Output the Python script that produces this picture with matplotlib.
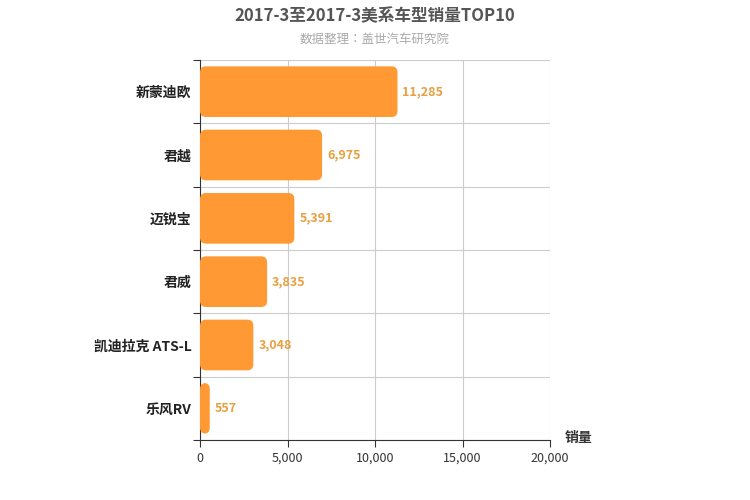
import matplotlib.pyplot as plt
from matplotlib.patches import FancyBboxPatch
from matplotlib import font_manager

names = {f.name for f in font_manager.fontManager.ttflist}
cjk = [f for f in ['Noto Sans CJK SC', 'Noto Sans CJK JP', 'Noto Sans CJK TC',
                   'Noto Sans CJK KR', 'Noto Sans SC'] if f in names]
print(sorted(n for n in names if 'CJK' in n or 'Noto' in n))
plt.rcParams['font.family'] = ['sans-serif']
plt.rcParams['font.sans-serif'] = cjk + ['DejaVu Sans']

cars = ['新蒙迪欧', '君越', '迈锐宝', '君威', '凯迪拉克 ATS-L', '乐风RV']
sales = [11285, 6975, 5391, 3835, 3048, 557]
xticks = [0, 5000, 10000, 15000, 20000]

fig = plt.figure(figsize=(7.5, 5), dpi=100)
ax = fig.add_axes([200/750, 60/500, 350/750, 380/500])
n = len(cars)
ax.set_xlim(0, 20000)
ax.set_ylim(n, 0)

xpp = 20000 / 350
ypp = n / 380
h = 0.8
for i, v in enumerate(sales):
    y = i + 0.5
    p = FancyBboxPatch((0, y - h/2), v, h,
                       boxstyle="round,pad=0,rounding_size=%f" % (6*xpp),
                       mutation_aspect=ypp/xpp,
                       fc='#FF9933', ec='none', zorder=3)
    ax.add_patch(p)
    ax.text(v + 5*xpp, y, f'{v:,}', va='center', ha='left',
            color='#E8A040', fontsize=9, fontweight='bold', zorder=4)

ax.set_xticks(xticks)
ax.set_xticklabels([f'{t:,}' for t in xticks], fontsize=9, color='#333')
ax.set_yticks(range(n + 1))
ax.set_yticklabels([])
ax.set_yticks([i + 0.5 for i in range(n)], minor=True)
ax.set_yticklabels(cars, minor=True, fontsize=10, color='#222', fontweight='bold')
ax.tick_params(axis='y', which='minor', length=0, pad=6)
ax.tick_params(axis='y', which='major', length=5, color='#333')
ax.tick_params(axis='x', length=5, color='#333')
ax.grid(True, which='major', color='#ccc', lw=0.8, zorder=0)
for s in ['top', 'right']:
    ax.spines[s].set_visible(False)
for s in ['left', 'bottom']:
    ax.spines[s].set_color('#333')

fig.text(0.5, 0.968, '2017-3至2017-3美系车型销量TOP10', ha='center', va='center',
         fontsize=12, fontweight='bold', color='#555')
fig.text(0.5, 0.922, '数据整理：盖世汽车研究院', ha='center', va='center',
         fontsize=9, color='#aaa')
fig.text(565/750, 1 - 438/500, '销量', ha='left', va='center',
         fontsize=10, fontweight='bold', color='#333')

fig.savefig('out.png')
